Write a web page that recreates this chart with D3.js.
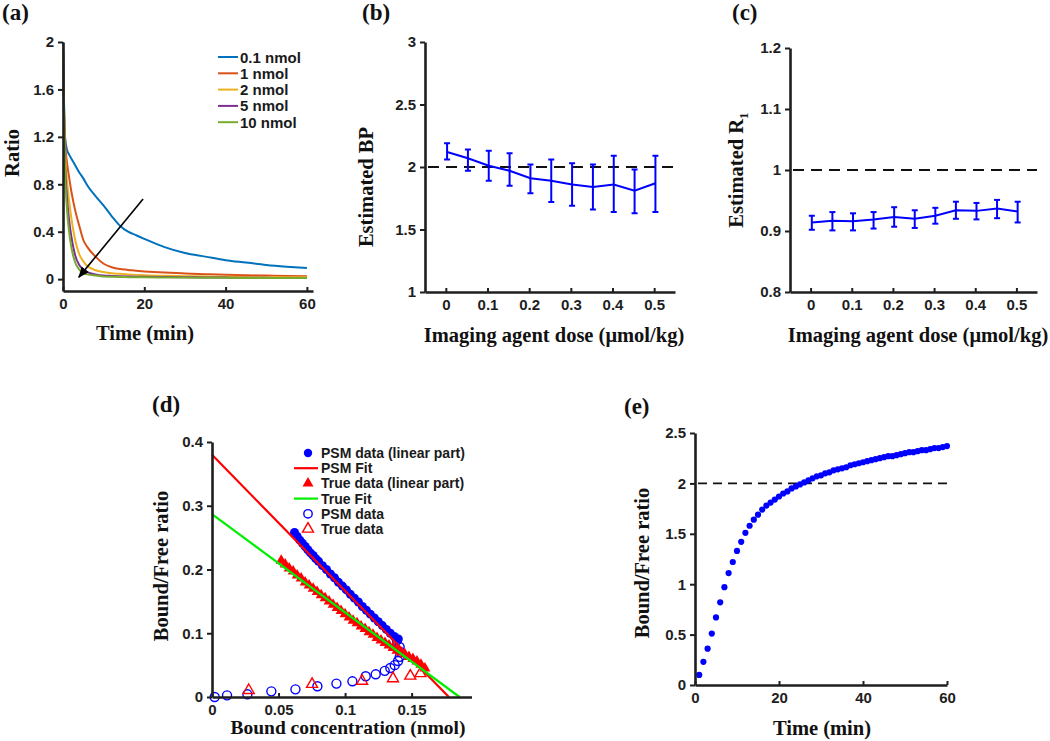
<!DOCTYPE html>
<html>
<head>
<meta charset="utf-8">
<script src="https://cdn.jsdelivr.net/npm/d3@7"></script>
<style>
  body { margin: 0; background: #fff; }
  svg { display: block; }
</style>
</head>
<body>
<script>
// ---------------- DATA ----------------
// (a) Ratio vs time for several doses
const aTime = [0, 0.25, 0.5, 1, 1.5, 2, 3, 4, 5, 6, 8, 10, 12, 14, 16, 18, 20, 25, 30, 35, 40, 45, 50, 55, 60];
const aSeriesNames = ["0.1 nmol", "1 nmol", "2 nmol", "5 nmol", "10 nmol"];
const aDose01 = [2.0, 1.50, 1.20, 1.09, 1.05, 1.02, 0.96, 0.90, 0.85, 0.79, 0.70, 0.62, 0.53, 0.45, 0.40, 0.37, 0.34, 0.27, 0.22, 0.19, 0.16, 0.14, 0.12, 0.105, 0.093];
const aDose1 = [1.97, 1.45, 1.18, 0.98, 0.86, 0.75, 0.58, 0.45, 0.33, 0.27, 0.19, 0.13, 0.10, 0.085, 0.078, 0.07, 0.065, 0.055, 0.048, 0.042, 0.037, 0.033, 0.03, 0.027, 0.025];
const aDose2 = [1.96, 1.42, 1.10, 0.82, 0.66, 0.53, 0.33, 0.21, 0.15, 0.11, 0.075, 0.06, 0.05, 0.045, 0.04, 0.036, 0.033, 0.028, 0.025, 0.022, 0.02, 0.018, 0.017, 0.016, 0.015];
const aDose5 = [1.95, 1.38, 1.00, 0.68, 0.50, 0.37, 0.20, 0.12, 0.08, 0.06, 0.04, 0.03, 0.027, 0.025, 0.023, 0.021, 0.02, 0.018, 0.016, 0.014, 0.013, 0.012, 0.011, 0.01, 0.01];
const aDose10 = [1.94, 1.35, 0.92, 0.58, 0.40, 0.28, 0.14, 0.08, 0.05, 0.04, 0.03, 0.022, 0.02, 0.018, 0.017, 0.016, 0.015, 0.014, 0.013, 0.012, 0.011, 0.01, 0.01, 0.01, 0.01];
const aXTickValues = [0, 20, 40, 60];
const aXTickLabels = ["0", "20", "40", "60"];
const aYTickValues = [0, 0.4, 0.8, 1.2, 1.6, 2];
const aYTickLabels = ["0", "0.4", "0.8", "1.2", "1.6", "2"];

// (b) Estimated BP vs dose
const doses = [0.003, 0.053, 0.103, 0.153, 0.203, 0.253, 0.303, 0.353, 0.403, 0.453, 0.503];
const bpMean = [2.12, 2.07, 2.01, 1.97, 1.91, 1.89, 1.86, 1.84, 1.86, 1.81, 1.87];
const bpLow  = [2.06, 1.97, 1.89, 1.85, 1.79, 1.72, 1.69, 1.66, 1.64, 1.63, 1.64];
const bpHigh = [2.19, 2.14, 2.13, 2.11, 2.02, 2.06, 2.03, 2.02, 2.09, 1.98, 2.09];
const bpTrue = 2;
const doseTickValues = [0, 0.1, 0.2, 0.3, 0.4, 0.5];
const doseTickLabels = ["0", "0.1", "0.2", "0.3", "0.4", "0.5"];
const bYTickValues = [1, 1.5, 2, 2.5, 3];
const bYTickLabels = ["1", "1.5", "2", "2.5", "3"];

// (c) Estimated R1 vs dose
const r1Mean = [0.914, 0.917, 0.916, 0.919, 0.923, 0.920, 0.925, 0.934, 0.933, 0.937, 0.932];
const r1Low  = [0.902, 0.901, 0.901, 0.904, 0.907, 0.905, 0.912, 0.920, 0.919, 0.921, 0.914];
const r1High = [0.925, 0.931, 0.929, 0.931, 0.939, 0.934, 0.938, 0.948, 0.946, 0.951, 0.948];
const r1True = 1;
const cYTickValues = [0.8, 0.9, 1, 1.1, 1.2];
const cYTickLabels = ["0.8", "0.9", "1", "1.1", "1.2"];

// (d) Scatchard plot
const psmLinX = [0.062, 0.064, 0.066, 0.068, 0.070, 0.072, 0.074, 0.076, 0.078, 0.080, 0.083, 0.086, 0.089, 0.092, 0.095, 0.098, 0.101, 0.104, 0.107, 0.110, 0.113, 0.116, 0.119, 0.122, 0.125, 0.128, 0.131, 0.134, 0.137, 0.140];
const psmLinY = [0.258, 0.252, 0.246, 0.241, 0.236, 0.231, 0.226, 0.222, 0.217, 0.213, 0.206, 0.200, 0.193, 0.187, 0.180, 0.174, 0.168, 0.161, 0.155, 0.149, 0.142, 0.136, 0.130, 0.124, 0.118, 0.112, 0.106, 0.100, 0.095, 0.091];
const trueLinX = [0.052, 0.055, 0.058, 0.061, 0.064, 0.067, 0.070, 0.073, 0.076, 0.079, 0.082, 0.085, 0.088, 0.091, 0.094, 0.097, 0.100, 0.103, 0.106, 0.109, 0.112, 0.115, 0.118, 0.121, 0.124, 0.127, 0.130, 0.133, 0.136, 0.139, 0.142, 0.145, 0.148, 0.151, 0.154, 0.157, 0.160];
const trueLinY = [0.214, 0.208, 0.202, 0.197, 0.191, 0.186, 0.180, 0.175, 0.170, 0.165, 0.160, 0.155, 0.150, 0.145, 0.140, 0.135, 0.130, 0.125, 0.120, 0.116, 0.111, 0.107, 0.102, 0.098, 0.093, 0.089, 0.085, 0.081, 0.077, 0.073, 0.070, 0.067, 0.063, 0.060, 0.056, 0.051, 0.045];
const psmFitX = [0, 0.178];
const psmFitY = [0.38, 0];
const trueFitX = [0, 0.186];
const trueFitY = [0.287, 0];
const psmAllX = [0.002, 0.0113, 0.0266, 0.0446, 0.0627, 0.0792, 0.0935, 0.1055, 0.1155, 0.123, 0.1298, 0.134, 0.1373, 0.1398, 0.1411, 0.1416, 0.141, 0.139];
const psmAllY = [0.0, 0.0026, 0.0042, 0.0089, 0.012, 0.0168, 0.021, 0.0246, 0.0325, 0.0356, 0.041, 0.0455, 0.05, 0.0565, 0.063, 0.0707, 0.0785, 0.089];
const trueAllX = [0.0276, 0.0752, 0.1128, 0.136, 0.149, 0.1566];
const trueAllY = [0.0105, 0.020, 0.025, 0.029, 0.033, 0.037];
const dLegend = ["PSM data (linear part)", "PSM Fit", "True data (linear part)", "True Fit", "PSM data", "True data"];
const dXTickValues = [0, 0.05, 0.1, 0.15];
const dXTickLabels = ["0", "0.05", "0.1", "0.15"];
const dYTickValues = [0, 0.1, 0.2, 0.3, 0.4];
const dYTickLabels = ["0", "0.1", "0.2", "0.3", "0.4"];

// (e) Bound/Free ratio vs time
const eTime = [1,2,3,4,5,6,7,8,9,10,11,12,13,14,15,16,17,18,19,20,21,22,23,24,25,26,27,28,29,30,31,32,33,34,35,36,37,38,39,40,41,42,43,44,45,46,47,48,49,50,51,52,53,54,55,56,57,58,59,60];
const eRatio = [0.10,0.23,0.36,0.51,0.67,0.82,0.97,1.11,1.22,1.33,1.42,1.51,1.58,1.64,1.69,1.74,1.78,1.81,1.84,1.87,1.90,1.92,1.95,1.97,1.99,2.01,2.03,2.05,2.07,2.08,2.10,2.11,2.13,2.14,2.15,2.16,2.18,2.19,2.20,2.21,2.22,2.23,2.24,2.25,2.26,2.27,2.27,2.28,2.29,2.30,2.31,2.31,2.32,2.33,2.33,2.34,2.35,2.35,2.36,2.37];
const eRef = 2;
const eXTickValues = [0, 20, 40, 60];
const eXTickLabels = ["0", "20", "40", "60"];
const eYTickValues = [0, 0.5, 1, 1.5, 2, 2.5];
const eYTickLabels = ["0", "0.5", "1", "1.5", "2", "2.5"];

// ---------------- DRAWING ----------------
const W = 1050, H = 741;
const svg = d3.select("body").append("svg").attr("width", W).attr("height", H);
const SANS = "'Liberation Sans', Arial, sans-serif";
const SERIF = "'Liberation Serif', 'Times New Roman', serif";
const AX = "#1e1e1e";

function drawAxes(x, y, xv, xl, yv, yl) {
  const g = svg.append("g");
  const gx = g.append("g").attr("transform", `translate(0,${y.range()[0]})`)
    .call(d3.axisBottom(x).tickValues(xv).tickFormat((d, i) => xl[i]).tickSizeInner(-4).tickSizeOuter(0).tickPadding(7));
  const gy = g.append("g").attr("transform", `translate(${x.range()[0]},0)`)
    .call(d3.axisLeft(y).tickValues(yv).tickFormat((d, i) => yl[i]).tickSizeInner(5).tickSizeOuter(0).tickPadding(4));
  [gx, gy].forEach(a => {
    a.select(".domain").attr("stroke", AX).attr("stroke-width", 2.6);
    a.selectAll(".tick line").attr("stroke", AX).attr("stroke-width", 2);
    a.selectAll(".tick text").attr("fill", AX).style("font-family", SANS).style("font-weight", "bold").style("font-size", "15px");
  });
  return g;
}
function panelLabel(txt, x, y) {
  svg.append("text").attr("x", x).attr("y", y).text(txt)
    .style("font-family", SERIF).style("font-weight", "bold").style("font-size", "23px").attr("fill", "#111");
}
function xTitle(txt, cx, y, size) {
  return svg.append("text").attr("x", cx).attr("y", y).attr("text-anchor", "middle").text(txt)
    .style("font-family", SERIF).style("font-weight", "bold").style("font-size", (size || 20.5) + "px").attr("fill", "#111");
}
function yTitle(txt, x, cy, size) {
  return svg.append("text").attr("transform", `translate(${x},${cy}) rotate(-90)`).attr("text-anchor", "middle").text(txt)
    .style("font-family", SERIF).style("font-weight", "bold").style("font-size", (size || 20.5) + "px").attr("fill", "#111");
}

// ---- Panel (a)
{
  const x = d3.scaleLinear().domain([0, 61.5]).range([63, 313]);
  const y = d3.scaleLinear().domain([-0.1, 2]).range([291, 42]);
  const colors = ["#0072BD", "#D95319", "#EDB120", "#7E2F8E", "#77AC30"];
  const series = [aDose01, aDose1, aDose2, aDose5, aDose10];
  const line = d3.line().x((d, i) => x(aTime[i])).y(d => y(d)).curve(d3.curveMonotoneX);
  series.forEach((s, k) => {
    svg.append("path").attr("d", line(s)).attr("fill", "none").attr("stroke", colors[k]).attr("stroke-width", 2);
  });
  // arrow annotation
  const defs = svg.append("defs");
  defs.append("marker").attr("id", "arrowHead").attr("viewBox", "0 0 10 10").attr("refX", 9).attr("refY", 5)
    .attr("markerWidth", 7).attr("markerHeight", 7).attr("orient", "auto")
    .append("path").attr("d", "M0,1 L10,5 L0,9 Z").attr("fill", "#000");
  svg.append("line").attr("x1", x(19.7)).attr("y1", y(0.675)).attr("x2", x(3.9)).attr("y2", y(0.017))
    .attr("stroke", "#000").attr("stroke-width", 1.6).attr("marker-end", "url(#arrowHead)");
  drawAxes(x, y, aXTickValues, aXTickLabels, aYTickValues, aYTickLabels);
  // legend
  aSeriesNames.forEach((n, k) => {
    const yy = 57 + k * 16.3;
    svg.append("line").attr("x1", 218).attr("x2", 238).attr("y1", yy).attr("y2", yy).attr("stroke", colors[k]).attr("stroke-width", 2);
    svg.append("text").attr("x", 240).attr("y", yy + 5.5).text(n)
      .style("font-family", SANS).style("font-weight", "bold").style("font-size", "15px").attr("fill", "#1a1a1a");
  });
  panelLabel("(a)", 2, 20);
  yTitle("Ratio", 19, 153);
  xTitle("Time (min)", 145, 340);
}

// error-bar panels
function errorPanel(x, y, mean, low, high, ref, yv, yl) {
  svg.append("line").attr("x1", x.range()[0] + 3).attr("x2", x.range()[1]).attr("y1", y(ref)).attr("y2", y(ref))
    .attr("stroke", "#111").attr("stroke-width", 2.2).attr("stroke-dasharray", "11,7");
  const line = d3.line().x((d, i) => x(doses[i])).y(d => y(d));
  svg.append("path").attr("d", line(mean)).attr("fill", "none").attr("stroke", "#0000FF").attr("stroke-width", 2);
  const eb = svg.append("g").attr("stroke", "#0000FF").attr("stroke-width", 2);
  doses.forEach((d, i) => {
    const cx = x(d);
    eb.append("line").attr("x1", cx).attr("x2", cx).attr("y1", y(low[i])).attr("y2", y(high[i]));
    eb.append("line").attr("x1", cx - 3).attr("x2", cx + 3).attr("y1", y(low[i])).attr("y2", y(low[i]));
    eb.append("line").attr("x1", cx - 3).attr("x2", cx + 3).attr("y1", y(high[i])).attr("y2", y(high[i]));
  });
  drawAxes(x, y, doseTickValues, doseTickLabels, yv, yl);
}

// ---- Panel (b)
{
  const x = d3.scaleLinear().domain([-0.05, 0.55]).range([425, 675]);
  const y = d3.scaleLinear().domain([1, 3]).range([292, 42]);
  errorPanel(x, y, bpMean, bpLow, bpHigh, bpTrue, bYTickValues, bYTickLabels);
  panelLabel("(b)", 362, 20);
  yTitle("Estimated BP", 373, 187);
  xTitle("Imaging agent dose (μmol/kg)", 554, 342);
}

// ---- Panel (c)
{
  const x = d3.scaleLinear().domain([-0.05, 0.55]).range([790, 1037]);
  const y = d3.scaleLinear().domain([0.8, 1.2]).range([292, 48]);
  errorPanel(x, y, r1Mean, r1Low, r1High, r1True, cYTickValues, cYTickLabels);
  panelLabel("(c)", 732, 20);
  const t = yTitle("Estimated R", 743, 170);
  t.append("tspan").attr("dy", 5).style("font-size", "13px").text("1");
  xTitle("Imaging agent dose (μmol/kg)", 918, 342);
}

// ---- Panel (d)
{
  const x = d3.scaleLinear().domain([0, 0.195]).range([212, 471.5]);
  const y = d3.scaleLinear().domain([0, 0.4]).range([697, 442]);
  const tri = d3.symbol().type(d3.symbolTriangle).size(52);
  // open markers
  svg.append("g").selectAll("circle").data(psmAllX).join("circle")
    .attr("cx", d => x(d)).attr("cy", (d, i) => y(psmAllY[i])).attr("r", 4.5)
    .attr("fill", "none").attr("stroke", "#0000FF").attr("stroke-width", 1.4);
  svg.append("g").selectAll("path").data(trueAllX).join("path")
    .attr("transform", (d, i) => `translate(${x(d)},${y(trueAllY[i])})`).attr("d", tri)
    .attr("fill", "none").attr("stroke", "#FF0000").attr("stroke-width", 1.4);
  // filled linear part
  svg.append("g").selectAll("path").data(trueLinX).join("path")
    .attr("transform", (d, i) => `translate(${x(d)},${y(trueLinY[i])})`).attr("d", tri).attr("fill", "#FF0000");
  svg.append("g").selectAll("circle").data(psmLinX).join("circle")
    .attr("cx", d => x(d)).attr("cy", (d, i) => y(psmLinY[i])).attr("r", 4.5).attr("fill", "#0000FF");
  // fits
  const fl = (xs, ys) => d3.line().x((d, i) => x(xs[i])).y(d => y(d))(ys);
  svg.append("path").attr("d", fl(psmFitX, psmFitY)).attr("stroke", "#FF0000").attr("stroke-width", 2.2).attr("fill", "none");
  svg.append("path").attr("d", fl(trueFitX, trueFitY)).attr("stroke", "#00EE00").attr("stroke-width", 2.2).attr("fill", "none");
  drawAxes(x, y, dXTickValues, dXTickLabels, dYTickValues, dYTickLabels);
  // legend
  const lx = 308, ly0 = 453, dy = 15.2;
  const lg = svg.append("g");
  lg.append("circle").attr("cx", lx).attr("cy", ly0).attr("r", 4.2).attr("fill", "#0000FF");
  lg.append("line").attr("x1", 294).attr("x2", 318).attr("y1", ly0 + dy).attr("y2", ly0 + dy).attr("stroke", "#FF0000").attr("stroke-width", 2.2);
  lg.append("path").attr("transform", `translate(${lx},${ly0 + 2 * dy})`).attr("d", tri).attr("fill", "#FF0000");
  lg.append("line").attr("x1", 294).attr("x2", 318).attr("y1", ly0 + 3 * dy).attr("y2", ly0 + 3 * dy).attr("stroke", "#00EE00").attr("stroke-width", 2.2);
  lg.append("circle").attr("cx", lx).attr("cy", ly0 + 4 * dy).attr("r", 4.2).attr("fill", "none").attr("stroke", "#0000FF").attr("stroke-width", 1.4);
  lg.append("path").attr("transform", `translate(${lx},${ly0 + 5 * dy})`).attr("d", tri).attr("fill", "none").attr("stroke", "#FF0000").attr("stroke-width", 1.4);
  dLegend.forEach((n, k) => {
    lg.append("text").attr("x", 321).attr("y", ly0 + k * dy + 5).text(n)
      .style("font-family", SANS).style("font-weight", "bold").style("font-size", "14px").attr("fill", "#1a1a1a");
  });
  panelLabel("(d)", 152, 412);
  yTitle("Bound/Free ratio", 168, 566);
  xTitle("Bound concentration (nmol)", 348, 734, 19.5);
}

// ---- Panel (e)
{
  const x = d3.scaleLinear().domain([0, 60]).range([695, 947]);
  const y = d3.scaleLinear().domain([0, 2.5]).range([685, 433]);
  svg.append("line").attr("x1", x(0) + 3).attr("x2", x(60)).attr("y1", y(eRef)).attr("y2", y(eRef))
    .attr("stroke", "#111").attr("stroke-width", 1.8).attr("stroke-dasharray", "9,6");
  svg.append("g").selectAll("circle").data(eTime).join("circle")
    .attr("cx", d => x(d)).attr("cy", (d, i) => y(eRatio[i])).attr("r", 3.1).attr("fill", "#0000FF");
  drawAxes(x, y, eXTickValues, eXTickLabels, eYTickValues, eYTickLabels);
  panelLabel("(e)", 624, 414);
  yTitle("Bound/Free ratio", 649, 563);
  xTitle("Time (min)", 822, 735);
}
</script>
</body>
</html>
